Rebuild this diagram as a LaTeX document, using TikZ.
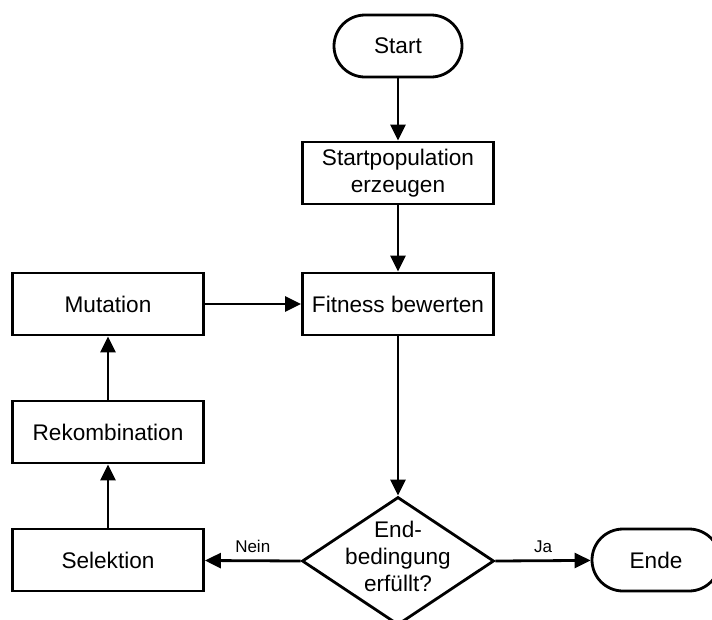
\documentclass[tikz,border=0pt]{standalone}
\usepackage{fontspec}
\setmainfont{Liberation Sans}
\usetikzlibrary{arrows.meta,shapes.geometric}
\begin{document}
\begin{tikzpicture}[x=1pt,y=-1pt,
  line width=2.8pt,
  base/.style={draw, inner sep=0pt, font=\fontsize{22.6}{27}\selectfont, align=center},
  procbox/.style={base, rectangle, minimum width=191pt, minimum height=62pt},
  terminal/.style={base, rectangle, rounded corners=31pt, minimum width=128pt, minimum height=62pt},
  decision/.style={base, diamond, minimum width=192pt, minimum height=128pt},
  flow/.style={-{Triangle[length=16pt,width=15pt]}},
  edgelabel/.style={font=\fontsize{17}{20}\selectfont, midway, above, yshift=3pt}
]
\useasboundingbox (0,0) rectangle (712,619);

\node[terminal] (start) at (398,46) {Start};
\node[procbox]  (init)  at (398,173) {Startpopulation\\erzeugen};
\node[procbox]  (fit)   at (398,304) {Fitness bewerten};
\node[procbox]  (mut)   at (108,304) {Mutation};
\node[procbox]  (rek)   at (108,432) {Rekombination};
\node[procbox]  (sel)   at (108,560) {Selektion};
\node[decision] (cond)  at (398,561)
  {\smash{\makebox[0pt]{\raisebox{-3pt}{\begin{tabular}{@{}c@{}}End-\\bedingung\\erfüllt?\end{tabular}}}}};
\node[terminal] (ende)  at (656,560) {Ende};

\draw[flow] (start) -- (init);
\draw[flow] (init) -- (fit);
\draw[flow] (mut) -- (fit);
\draw[flow] (fit) -- (cond);
\draw[flow] (cond.west) -- node[edgelabel] {Nein} (sel);
\draw[flow] (cond.east) -- node[edgelabel] {Ja} (ende);
\draw[flow] (sel) -- (rek);
\draw[flow] (rek) -- (mut);
\end{tikzpicture}
\end{document}
